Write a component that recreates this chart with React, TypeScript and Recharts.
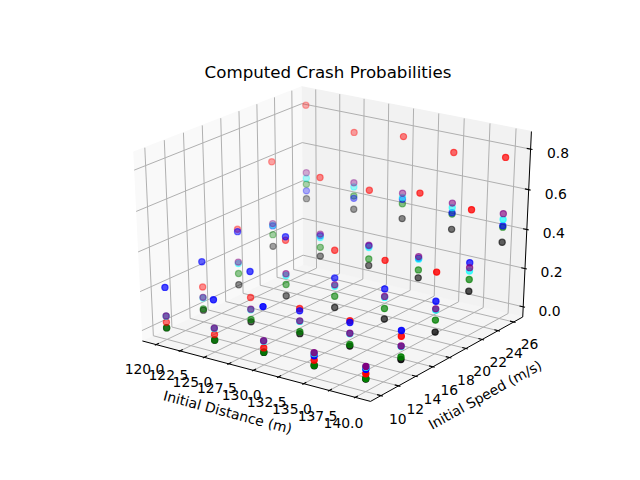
import React from "react";
import { ScatterChart, Scatter, XAxis, YAxis } from "recharts";

const DISTANCES = [120, 125, 130, 135, 140];
const SPEEDS = [10, 14, 18, 22, 26];

// crash probability, one row per initial speed, one column per initial distance
const RED = [
  [0.035, 0.036, 0.033, 0.037, 0.036],
  [0.129, 0.136, 0.142, 0.143, 0.129],
  [0.343, 0.344, 0.351, 0.359, 0.36],
  [0.611, 0.584, 0.573, 0.613, 0.586],
  [0.826, 0.738, 0.767, 0.739, 0.766],
];
const BLUE = [
  [0.214, 0.213, 0.241, 0.059, 0.058],
  [0.259, 0.269, 0.13, 0.134, 0.158],
  [0.331, 0.362, 0.21, 0.215, 0.214],
  [0.28, 0.285, 0.29, 0.285, 0.322],
  [0.385, 0.4, 0.45, 0.436, 0.426],
];
const GREEN = [
  [0.007, 0.008, 0.012, 0.011, 0.012],
  [0.015, 0.022, 0.023, 0.022, 0.025],
  [0.113, 0.116, 0.116, 0.115, 0.119],
  [0.234, 0.225, 0.223, 0.226, 0.237],
  [0.42, 0.412, 0.427, 0.429, 0.419],
];
const BLACK = [
  [0.006, 0.007, 0.01, 0.009, 0.01],
  [0.008, 0.01, 0.013, 0.014, 0.012],
  [0.054, 0.057, 0.058, 0.061, 0.058],
  [0.172, 0.179, 0.189, 0.185, 0.177],
  [0.344, 0.343, 0.35, 0.351, 0.342],
];
const CYAN = [
  [0.066, 0.067, 0.067, 0.07, 0.068],
  [0.072, 0.073, 0.076, 0.077, 0.077],
  [0.165, 0.163, 0.168, 0.172, 0.17],
  [0.283, 0.276, 0.282, 0.281, 0.28],
  [0.451, 0.459, 0.459, 0.462, 0.458],
];
const PURPLE = [
  [0.068, 0.069, 0.069, 0.074, 0.072],
  [0.075, 0.076, 0.079, 0.08, 0.08],
  [0.173, 0.172, 0.175, 0.177, 0.176],
  [0.292, 0.294, 0.294, 0.294, 0.297],
  [0.48, 0.481, 0.481, 0.485, 0.487],
];

const X_TICKS = [120, 122.5, 125, 127.5, 130, 132.5, 135, 137.5, 140];
const Y_TICKS = [10, 12, 14, 16, 18, 20, 22, 24, 26];
const Z_TICKS = [0, 0.2, 0.4, 0.6, 0.8];

// drawing order (farthest collection first)
const SERIES = [
  { name: "black", color: "#000000", values: BLACK },
  { name: "green", color: "#008000", values: GREEN },
  { name: "red", color: "#ff0000", values: RED },
  { name: "blue", color: "#0000ff", values: BLUE },
  { name: "cyan", color: "#00ffff", values: CYAN },
  { name: "purple", color: "#800080", values: PURPLE },
];

const W = 640;
const H = 480;
const FONT = "DejaVu Sans";

// view of the 3d box
const ELEV = 26;
const AZIM = -55;
const EYE = 10;
const el = (ELEV * Math.PI) / 180;
const az = (AZIM * Math.PI) / 180;
const N = [Math.cos(az) * Math.cos(el), Math.sin(az) * Math.cos(el), Math.sin(el)];
const U = [-Math.sin(az), Math.cos(az), 0];
const V = [-Math.cos(az) * Math.sin(el), -Math.sin(az) * Math.sin(el), Math.cos(el)];

// 2d placement of the projected box inside the figure
const AX_LEFT = 80;
const AX_RIGHT = 576;
const AX_TOP = 57.6;
const AX_BOTTOM = 427.2;
const VIEW = [-0.095, 0.09];
const SX = (AX_RIGHT - AX_LEFT) / (VIEW[1] - VIEW[0]);
const SY = (AX_BOTTOM - AX_TOP) / (VIEW[1] - VIEW[0]);
const X_DOMAIN = [VIEW[0] - AX_LEFT / SX, VIEW[0] + (W - AX_LEFT) / SX];
const Y_DOMAIN = [VIEW[0] - (H - AX_BOTTOM) / SY, VIEW[0] + AX_BOTTOM / SY];

function limits(vals: number[]) {
  const lo = Math.min(...vals);
  const hi = Math.max(...vals);
  const m = (hi - lo) * 0.05;
  return [lo - m, hi + m];
}
const XLIM = limits(DISTANCES);
const YLIM = limits(SPEEDS);
const ZLIM = limits(SERIES.flatMap((s) => s.values.flat()));

const xw = (v: number) => (v - XLIM[0]) / (XLIM[1] - XLIM[0]);
const yw = (v: number) => (v - YLIM[0]) / (YLIM[1] - YLIM[0]);
const zw = (v: number) => (v - ZLIM[0]) / (ZLIM[1] - ZLIM[0]);

const PAD = 1 / 48;
const LO = -PAD;
const HI = 1 + PAD;
const DPP = 48 / ((AX_RIGHT - AX_LEFT + AX_BOTTOM - AX_TOP) * 0.72);
const TICK_OUT = 0.1 / 12;
const TICK_IN = 0.2 / 12;
const TL = (11.5 * DPP) / 12;
const AL = (25 * DPP) / 12;

function project(w: number[]) {
  const d = [w[0] - 0.5, w[1] - 0.5, w[2] - 0.5];
  const dot = (a: number[]) => a[0] * d[0] + a[1] * d[1] + a[2] * d[2];
  const den = EYE - dot(N);
  return { px: dot(U) / den, py: dot(V) / den, depth: -EYE / den };
}

function seriesPoints(values: number[][]) {
  const pts: { px: number; py: number; depth: number }[] = [];
  SPEEDS.forEach((s, j) =>
    DISTANCES.forEach((d, i) => pts.push(project([xw(d), yw(s), zw(values[j][i])])))
  );
  const ds = pts.map((p) => p.depth);
  const lo = Math.min(...ds);
  const hi = Math.max(...ds);
  return pts.map((p) => ({ ...p, alpha: 1 - 0.7 * ((p.depth - lo) / (hi - lo)) }));
}

const PANES = [
  { fill: "#f9f9f9", pts: [[LO, LO, LO], [LO, HI, LO], [LO, HI, HI], [LO, LO, HI]] },
  { fill: "#f2f2f2", pts: [[LO, HI, LO], [HI, HI, LO], [HI, HI, HI], [LO, HI, HI]] },
  { fill: "#f5f5f5", pts: [[LO, LO, LO], [HI, LO, LO], [HI, HI, LO], [LO, HI, LO]] },
];

const GRID = [
  ...X_TICKS.map((t) => [[xw(t), LO, LO], [xw(t), HI, LO], [xw(t), HI, HI]]),
  ...Y_TICKS.map((t) => [[LO, yw(t), HI], [LO, yw(t), LO], [HI, yw(t), LO]]),
  ...Z_TICKS.map((t) => [[HI, HI, zw(t)], [LO, HI, zw(t)], [LO, LO, zw(t)]]),
];

const AXIS_LINES = [
  [[LO, LO, LO], [HI, LO, LO]],
  [[HI, LO, LO], [HI, HI, LO]],
  [[HI, HI, LO], [HI, HI, HI]],
];

const TICK_LINES = [
  ...X_TICKS.map((t) => [[xw(t), LO - TICK_OUT, LO], [xw(t), LO + TICK_IN, LO]]),
  ...Y_TICKS.map((t) => [[HI + TICK_OUT, yw(t), LO], [HI - TICK_IN, yw(t), LO]]),
  ...Z_TICKS.map((t) => [[HI + TICK_OUT, HI, zw(t)], [HI - TICK_IN, HI, zw(t)]]),
];

const TICK_LABELS = [
  ...X_TICKS.map((t) => ({ ...project([xw(t), LO - TL, LO - TL]), text: t.toFixed(1) })),
  ...Y_TICKS.map((t) => ({ ...project([HI + TL, yw(t), LO - TL]), text: String(t) })),
  ...Z_TICKS.map((t) => ({ ...project([HI + TL, HI + TL, zw(t)]), text: t.toFixed(1) })),
];

function edgeAngle(a: number[], b: number[]) {
  const p = project(a);
  const q = project(b);
  return (Math.atan2(-(q.py - p.py) * SY, (q.px - p.px) * SX) * 180) / Math.PI;
}

const AXIS_LABELS = [
  {
    ...project([0.5, LO - AL, LO - AL]),
    text: "Initial Distance (m)",
    angle: edgeAngle([LO, LO, LO], [HI, LO, LO]),
  },
  {
    ...project([HI + AL, 0.5, LO - AL]),
    text: "Initial Speed (m/s)",
    angle: edgeAngle([HI, LO, LO], [HI, HI, LO]),
  },
];

const Empty = () => <g />;

const tickText = (p: any) => (
  <text x={p.cx} y={p.cy + 10.5} textAnchor="middle" fontSize={13.9} fontFamily={FONT} fill="#000">
    {p.payload.text}
  </text>
);

const axisText = (p: any) => (
  <text
    x={p.cx}
    y={p.cy}
    transform={`rotate(${p.payload.angle} ${p.cx} ${p.cy})`}
    textAnchor="middle"
    dominantBaseline="central"
    fontSize={13.9}
    fontFamily={FONT}
    fill="#000"
  >
    {p.payload.text}
  </text>
);

const dot = (color: string) => (p: any) => (
  <circle
    cx={p.cx}
    cy={p.cy}
    r={3.1}
    fill={color}
    fillOpacity={p.payload.alpha}
    stroke={color}
    strokeOpacity={p.payload.alpha}
    strokeWidth={1.2}
  />
);

export default function App() {
  return (
    <div style={{ position: "absolute", left: 0, top: 0, width: W, height: H, background: "#fff" }}>
      <div
        style={{
          position: "absolute",
          left: 0,
          top: 63,
          width: 2 * ((AX_LEFT + AX_RIGHT) / 2),
          textAlign: "center",
          fontFamily: FONT,
          fontSize: 16.67,
          lineHeight: "20px",
        }}
      >
        Computed Crash Probabilities
      </div>
      <ScatterChart width={W} height={H} margin={{ top: 0, right: 0, bottom: 0, left: 0 }}>
        <XAxis type="number" dataKey="px" domain={X_DOMAIN} allowDataOverflow hide scale="linear" />
        <YAxis type="number" dataKey="py" domain={Y_DOMAIN} allowDataOverflow hide scale="linear" />
        {PANES.map((pane, i) => (
          <Scatter
            key={"pane" + i}
            data={pane.pts.map(project)}
            shape={Empty}
            line={{ fill: pane.fill, stroke: pane.fill, strokeWidth: 1 }}
            isAnimationActive={false}
          />
        ))}
        {GRID.map((g, i) => (
          <Scatter
            key={"grid" + i}
            data={g.map(project)}
            shape={Empty}
            line={{ stroke: "#b0b0b0", strokeWidth: 1, fill: "none" }}
            isAnimationActive={false}
          />
        ))}
        {AXIS_LINES.map((g, i) => (
          <Scatter
            key={"axis" + i}
            data={g.map(project)}
            shape={Empty}
            line={{ stroke: "#000", strokeWidth: 1, fill: "none" }}
            isAnimationActive={false}
          />
        ))}
        {TICK_LINES.map((g, i) => (
          <Scatter
            key={"tick" + i}
            data={g.map(project)}
            shape={Empty}
            line={{ stroke: "#000", strokeWidth: 1.1, fill: "none" }}
            isAnimationActive={false}
          />
        ))}
        <Scatter data={TICK_LABELS} shape={tickText} isAnimationActive={false} />
        <Scatter data={AXIS_LABELS} shape={axisText} isAnimationActive={false} />
        {SERIES.map((s) => (
          <Scatter
            key={s.name}
            name={s.name}
            data={seriesPoints(s.values)}
            shape={dot(s.color)}
            isAnimationActive={false}
          />
        ))}
      </ScatterChart>
    </div>
  );
}
